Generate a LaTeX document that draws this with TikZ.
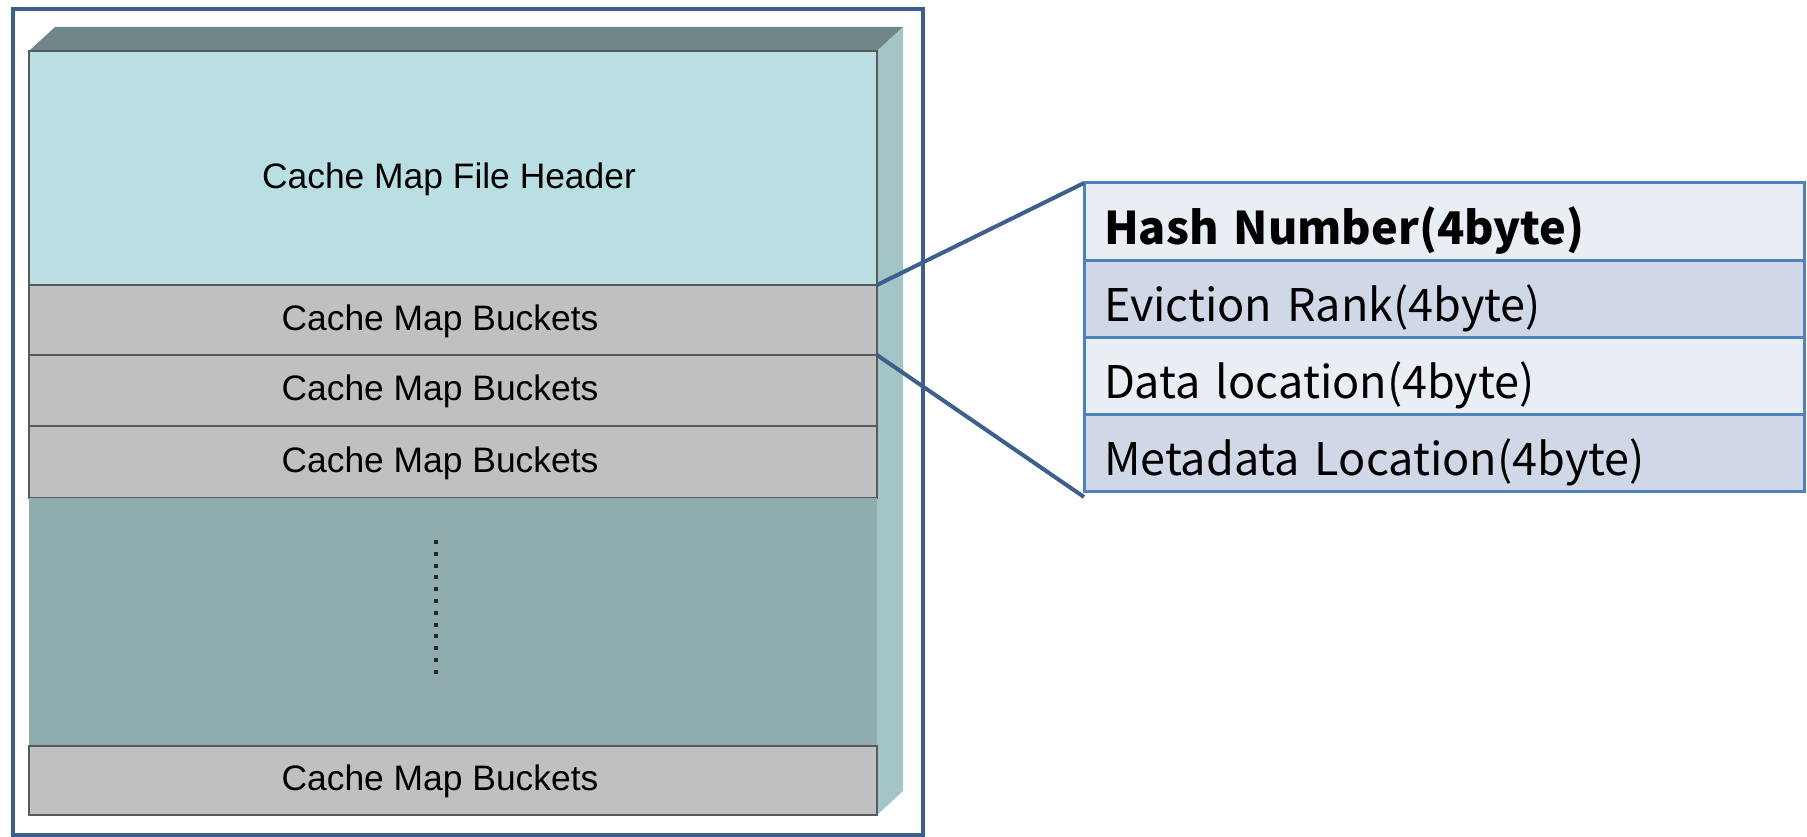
\documentclass[tikz,border=0pt]{standalone}
\usepackage{fontspec}
\setmainfont{Liberation Sans}
\newfontfamily\kr{Noto Sans CJK KR}
\definecolor{frameblue}{HTML}{3D5F8D}
\definecolor{topc}{HTML}{6F8688}
\definecolor{sidec}{HTML}{A3C5C6}
\definecolor{headc}{HTML}{B9DFE2}
\definecolor{darkc}{HTML}{8FACAE}
\definecolor{buckc}{HTML}{C0C0C0}
\definecolor{edgec}{HTML}{555B5C}
\definecolor{tabblue}{HTML}{4F81BD}
\definecolor{rowa}{HTML}{E9EDF4}
\definecolor{rowb}{HTML}{D0D8E8}
\tikzset{
  block/.style={draw=edgec, line width=2pt, minimum width=848, inner sep=0pt, outer sep=0pt},
  blocktext/.style={font=\fontsize{35.4}{40}\selectfont, text=black},
  row/.style={draw=tabblue, line width=3pt, anchor=north west, minimum height=77, text width=680, text height=49, text depth=4, inner xsep=20, inner ysep=0pt, outer sep=0pt, align=left, font=\kr\fontsize{45}{50}\selectfont},
  conn/.style={draw=frameblue, line width=4pt}
}
\begin{document}
\begin{tikzpicture}[x=1pt,y=-1pt]
\useasboundingbox[fill=white] (0,0) rectangle (1807,837);
% outer frame
\node[draw=frameblue, line width=4pt, minimum width=910, minimum height=826, inner sep=0pt, anchor=north west] (frame) at (11,7) {};
% 3D faces
\fill[topc] (29,51) -- (55,27) -- (903,27) -- (877,51) -- cycle;
\fill[sidec] (877,51) -- (903,27) -- (903,791) -- (877,815) -- cycle;
% blocks
\node[block, fill=headc, minimum height=234] (head) at (453,168) {};
\node[block, fill=buckc, minimum height=70] (b1) at (453,320) {};
\node[block, fill=buckc, minimum height=71] (b2) at (453,390.5) {};
\node[block, fill=buckc, minimum height=72] (b3) at (453,462) {};
\node[block, draw=none, fill=darkc, minimum height=248] (dark) at (453,622) {};
\node[block, fill=buckc, minimum height=69] (b4) at (453,780.5) {};
% texts
\node[blocktext] (theader) at (449,179) {Cache Map File Header};
\node[blocktext] (tb1) at (440,321) {Cache Map Buckets};
\node[blocktext] (tb2) at (440,391.5) {Cache Map Buckets};
\node[blocktext] (tb3) at (440,463) {Cache Map Buckets};
\node[blocktext] (tb4) at (440,781.5) {Cache Map Buckets};
% dots
\coordinate (dtop) at (436,540);
\coordinate (dbot) at (436,675);
\draw[black!85, line width=4pt, dash pattern=on 4pt off 7.8pt] (dtop) -- (dbot);
% table
\node[row, fill=rowa] (r1) at (1084,183) {\bfseries Hash Number(4byte)};
\node[row, fill=rowb] (r2) at (r1.south west) {Eviction Rank(4byte)};
\node[row, fill=rowa] (r3) at (r2.south west) {Data location(4byte)};
\node[row, fill=rowb] (r4) at (r3.south west) {Metadata Location(4byte)};
% connectors
\coordinate (l2end) at (1084,497);
\draw[conn] (head.south east) -- (r1.north west);
\draw[conn] (b1.south east) -- (l2end);
\end{tikzpicture}
\end{document}
